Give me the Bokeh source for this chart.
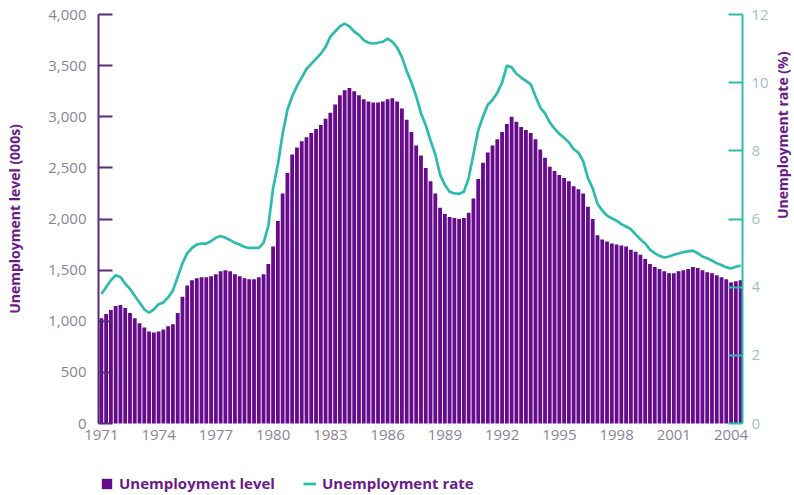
import math
from bokeh.plotting import figure
from bokeh.models import (Range1d, LinearAxis, FixedTicker, NumeralTickFormatter,
                          Legend, LegendItem, ColumnDataSource)
from bokeh.embed import file_html
from bokeh.resources import INLINE

# Quarterly data, 1971 Q1 .. 2004 Q3
start_year = 1971
level_000s = [
    1030, 1070, 1110, 1150,   # 1971
    1160, 1130, 1080, 1030,   # 1972
    980, 940, 900, 890,       # 1973
    900, 920, 950, 970,       # 1974
    1080, 1240, 1350, 1400,   # 1975
    1420, 1430, 1430, 1440,   # 1976
    1460, 1490, 1500, 1490,   # 1977
    1460, 1440, 1420, 1410,   # 1978
    1410, 1430, 1460, 1560,   # 1979
    1730, 1980, 2250, 2450,   # 1980
    2630, 2700, 2760, 2800,   # 1981
    2840, 2880, 2920, 2980,   # 1982
    3040, 3120, 3210, 3260,   # 1983
    3280, 3250, 3210, 3170,   # 1984
    3150, 3140, 3140, 3150,   # 1985
    3170, 3180, 3150, 3080,   # 1986
    2970, 2850, 2720, 2620,   # 1987
    2500, 2370, 2250, 2110,   # 1988
    2050, 2020, 2010, 2000,   # 1989
    2010, 2060, 2200, 2390,   # 1990
    2550, 2650, 2720, 2780,   # 1991
    2850, 2930, 3000, 2950,   # 1992
    2900, 2870, 2840, 2780,   # 1993
    2680, 2600, 2510, 2470,   # 1994
    2430, 2400, 2370, 2320,   # 1995
    2290, 2250, 2120, 2000,   # 1996
    1840, 1800, 1780, 1760,   # 1997
    1750, 1740, 1730, 1700,   # 1998
    1680, 1650, 1610, 1560,   # 1999
    1530, 1510, 1490, 1470,   # 2000
    1470, 1490, 1500, 1510,   # 2001
    1530, 1520, 1500, 1480,   # 2002
    1470, 1450, 1430, 1410,   # 2003
    1380, 1390, 1400,         # 2004
]
rate_pct = [
    3.8, 4.0, 4.2, 4.35,      # 1971
    4.3, 4.1, 3.95, 3.75,     # 1972
    3.55, 3.35, 3.25, 3.35,   # 1973
    3.5, 3.55, 3.7, 3.9,      # 1974
    4.3, 4.7, 5.0, 5.15,      # 1975
    5.25, 5.28, 5.28, 5.35,   # 1976
    5.45, 5.5, 5.45, 5.38,    # 1977
    5.3, 5.25, 5.18, 5.15,    # 1978
    5.15, 5.15, 5.3, 5.8,     # 1979
    6.9, 7.6, 8.5, 9.2,       # 1980
    9.6, 9.9, 10.15, 10.4,    # 1981
    10.55, 10.7, 10.85, 11.05,  # 1982
    11.35, 11.5, 11.65, 11.73,  # 1983
    11.65, 11.5, 11.4, 11.25,   # 1984
    11.17, 11.15, 11.17, 11.2,  # 1985
    11.29, 11.2, 11.03, 10.75,  # 1986
    10.35, 10.0, 9.6, 9.1,    # 1987
    8.75, 8.3, 7.9, 7.3,      # 1988
    7.0, 6.8, 6.75, 6.74,     # 1989
    6.8, 7.2, 7.9, 8.6,       # 1990
    9.0, 9.35, 9.5, 9.7,      # 1991
    10.0, 10.5, 10.45, 10.26, # 1992
    10.15, 10.05, 9.95, 9.6,  # 1993
    9.27, 9.1, 8.83, 8.65,    # 1994
    8.5, 8.38, 8.25, 8.05,    # 1995
    7.95, 7.7, 7.2, 6.9,      # 1996
    6.45, 6.25, 6.1, 6.02,    # 1997
    5.95, 5.85, 5.78, 5.7,    # 1998
    5.55, 5.4, 5.28, 5.1,     # 1999
    5.0, 4.92, 4.87, 4.9,     # 2000
    4.95, 4.99, 5.03, 5.05,   # 2001
    5.07, 5.0, 4.9, 4.85,     # 2002
    4.78, 4.7, 4.65, 4.58,    # 2003
    4.55, 4.6, 4.63,          # 2004
]
year_ticks = [1971, 1974, 1977, 1980, 1983, 1986, 1989, 1992, 1995, 1998, 2001, 2004]
level_ticks = [0, 500, 1000, 1500, 2000, 2500, 3000, 3500, 4000]
rate_ticks = [0, 2, 4, 6, 8, 10, 12]

x = [start_year + 0.25 * i for i in range(len(level_000s))]
src = ColumnDataSource(dict(x=x, level=level_000s, rate=rate_pct))

PURPLE = "#650b8c"
TEAL = "#2cbcae"
FONT = "Open Sans"
TICK_FS = "15px"
TITLE_FS = "14px"

# ---- layout: the frame fills the whole canvas; axes are pinned inside it ----
W, H = 794, 495
PLOT_L, PLOT_R, PLOT_T, PLOT_B = 98, 742, 14, 423     # pixel box of the chart body
X0, X1 = 1970.85, 2004.6                              # data x at PLOT_L / PLOT_R
LV_MAX, RT_MAX = 4000, 12
sx = (PLOT_R - PLOT_L) / (X1 - X0)
sy = (PLOT_B - PLOT_T) / LV_MAX
x_lo, x_hi = X0 - PLOT_L / sx, X1 + (W - PLOT_R) / sx
y_lo, y_hi = -(H - PLOT_B) / sy, LV_MAX + PLOT_T / sy
k = RT_MAX / LV_MAX

p = figure(width=W, height=H, output_backend="svg", toolbar_location=None,
           x_range=Range1d(x_lo, x_hi), y_range=Range1d(y_lo, y_hi),
           min_border=0)
p.extra_y_ranges = {"rate": Range1d(y_lo * k, y_hi * k)}
p.outline_line_color = None
p.xgrid.visible = False
p.ygrid.visible = False

bars = p.vbar(x="x", top="level", width=0.2, bottom=0, source=src,
              fill_color=PURPLE, line_color=None)
line = p.line(x="x", y="rate", source=src, y_range_name="rate",
              line_color=TEAL, line_width=2.7)

# x axis, pinned at zero
xa = p.xaxis[0]
xa.fixed_location = 0
xa.bounds = (X0, X1)
xa.ticker = FixedTicker(ticks=year_ticks)
xa.axis_line_color = None
xa.major_tick_line_color = None
xa.minor_tick_line_color = None
xa.major_label_text_color = "#8a8496"
xa.major_label_text_font = FONT
xa.major_label_text_font_size = TICK_FS
xa.major_label_standoff = 0

# left axis
ya = p.yaxis[0]
ya.fixed_location = X0
ya.bounds = (0, LV_MAX)
ya.ticker = FixedTicker(ticks=level_ticks)
ya.formatter = NumeralTickFormatter(format="0,0")
ya.axis_line_color = "#5a2a74"
ya.axis_line_width = 2
ya.major_tick_line_color = "#5a2a74"
ya.major_tick_line_width = 2
ya.major_tick_in = 14
ya.major_tick_out = 0
ya.minor_tick_line_color = None
ya.major_label_text_color = "#8a8496"
ya.major_label_text_font = FONT
ya.major_label_text_font_size = TICK_FS
ya.major_label_standoff = 12
ya.axis_label = "Unemployment level (000s)"
ya.axis_label_text_color = "#6a1b8a"
ya.axis_label_text_font = FONT
ya.axis_label_text_font_style = "bold"
ya.axis_label_text_font_size = TITLE_FS
ya.axis_label_standoff = 21

# right axis
ra = LinearAxis(y_range_name="rate", ticker=FixedTicker(ticks=rate_ticks))
ra.fixed_location = X1
ra.bounds = (0, RT_MAX)
ra.axis_line_color = TEAL
ra.axis_line_width = 2
ra.major_tick_line_color = TEAL
ra.major_tick_line_width = 2
ra.major_tick_in = 14
ra.major_tick_out = 0
ra.minor_tick_line_color = None
ra.major_label_text_color = "#9fc2c2"
ra.major_label_text_font = FONT
ra.major_label_text_font_size = TICK_FS
ra.major_label_standoff = 9
ra.axis_label = "Unemployment rate (%)"
ra.axis_label_text_color = "#6a1b8a"
ra.axis_label_text_font = FONT
ra.axis_label_text_font_style = "bold"
ra.axis_label_text_font_size = TITLE_FS
ra.axis_label_standoff = 11
if "axis_label_orientation" in ra.properties():
    ra.axis_label_orientation = math.pi / 2
p.add_layout(ra, "right")

legend = Legend(items=[LegendItem(label="Unemployment level", renderers=[bars]),
                       LegendItem(label="Unemployment rate", renderers=[line])],
                orientation="horizontal", location=(PLOT_L + 2, 2),
                label_text_font=FONT, label_text_font_style="bold",
                label_text_font_size="15px", label_text_color="#6a1b8a",
                glyph_width=13, glyph_height=13, label_standoff=6, spacing=28,
                border_line_color=None, background_fill_alpha=0,
                padding=0, margin=0)
p.add_layout(legend)

open("out.html", "w").write(file_html(p, INLINE))
